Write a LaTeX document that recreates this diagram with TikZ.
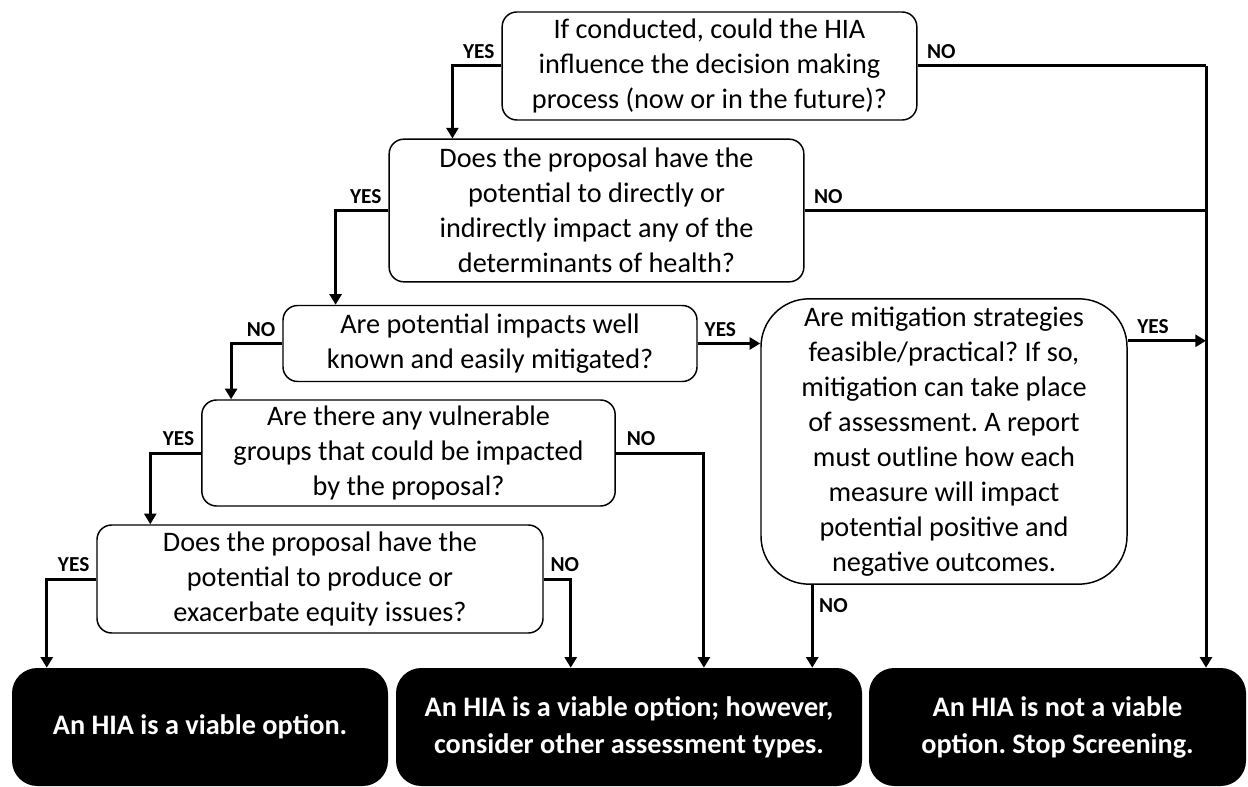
\documentclass[tikz,border=0pt]{standalone}
\usepackage{fontspec}
\setmainfont{Carlito}
\usetikzlibrary{arrows.meta,positioning}
\frenchspacing

\begin{document}
\begin{tikzpicture}[x=0.75pt,y=-0.75pt,
    qbox/.style={draw,line width=1.1pt,rounded corners=11pt,fill=white,
                 font=\fontsize{21.2}{26.25}\selectfont,align=center,inner sep=0pt},
    endbox/.style={fill=black,rounded corners=19pt,text=white,
                 font=\fontsize{21.2}{27.75}\selectfont\bfseries,align=center,
                 minimum height=88.5pt,inner sep=0pt},
    conn/.style={line width=2.25pt},
    arr/.style={conn,-{Triangle[length=8pt,width=9pt]}},
    lbl/.style={font=\fontsize{16}{18}\selectfont\bfseries,inner sep=2pt}]
    \useasboundingbox (0,0) rectangle (1248,787);
    % questions
    \node[qbox,minimum width=311pt,minimum height=81pt] (q1) at (709.5,66)
      {If conducted, could the HIA\\influence the decision making\\process (now or in the future)?};
    \node[qbox,minimum width=311pt,minimum height=107pt] (q2) at (596.5,210.5)
      {Does the proposal have the\\potential to directly or\\indirectly impact any of the\\determinants of health?};
    \node[qbox,minimum width=310.5pt,minimum height=57pt] (q3) at (490,343.5)
      {Are potential impacts well\\known and easily mitigated?};
    \node[qbox,minimum width=310pt,minimum height=79.5pt] (q4) at (408.5,453)
      {Are there any vulnerable\\groups that could be impacted\\by the proposal?};
    \node[qbox,minimum width=334.5pt,minimum height=81pt] (q5) at (320,579)
      {Does the proposal have the\\potential to produce or\\exacerbate equity issues?};
    \node[qbox,rounded corners=36pt,minimum width=274.5pt,minimum height=214pt] (mit) at (944,441.5)
      {Are mitigation strategies\\feasible/practical? If so,\\mitigation can take place\\of assessment. A report\\must outline how each\\measure will impact\\potential positive and\\negative outcomes.};
    % outcomes
    \node[endbox,minimum width=282pt] (b1) at (200,727) {An HIA is a viable option.};
    \node[endbox,minimum width=349.5pt] (b2) at (629,727)
      {An HIA is a viable option; however,\\consider other assessment types.};
    \node[endbox,minimum width=282.75pt] (b3) at (1057.5,727)
      {An HIA is not a viable\\option. Stop Screening.};
    % right hand collector
    \coordinate (rt) at (1206,66);
    \draw[conn] (q1.east) -- (rt);
    \draw[arr] (rt) -- (rt |- b3.north);
    \draw[conn] (q2.east) -- (q2.east -| rt);
    \draw[arr] ([yshift=-32pt]mit.north east) coordinate (m1) -- (m1 -| rt);
    % left hand branches
    \draw[arr] (q1.west) -| ([xshift=48pt]q2.north west);
    \draw[arr] (q2.west) -| ([xshift=40pt]q3.north west);
    \draw[arr] (q3.west) -| ([xshift=22.5pt]q4.north west);
    \draw[arr] (q4.west) -| ([xshift=40.5pt]q5.north west);
    \draw[arr] (q5.west) -| ([xshift=26.25pt]b1.north west);
    \draw[arr] (q3.east) -- (q3.east -| mit.west);
    \draw[arr] (q5.east) -- ++(27,0) coordinate (n5) -- (n5 |- b2.north);
    \draw[arr] (q4.east) -- ++(88,0) coordinate (n4) -- (n4 |- b2.north);
    \draw[arr] ([xshift=39pt]mit.south west) coordinate (n6) -- (n6 |- b2.north);
    % labels
    \node[lbl,anchor=south east] (y1) at ([xshift=-3pt,yshift=3pt]q1.west) {YES};
    \node[lbl,anchor=south west] (o1) at ([xshift=5pt,yshift=3pt]q1.east) {NO};
    \node[lbl,anchor=south east] (y2) at ([xshift=-3pt,yshift=3pt]q2.west) {YES};
    \node[lbl,anchor=south west] (o2) at ([xshift=5pt,yshift=3pt]q2.east) {NO};
    \node[lbl,anchor=south east] (o3) at ([xshift=-3pt,yshift=3pt]q3.west) {NO};
    \node[lbl,anchor=south west] (y3) at ([xshift=3pt,yshift=3pt]q3.east) {YES};
    \node[lbl,anchor=south east] (y4) at ([xshift=-3pt,yshift=3pt]q4.west) {YES};
    \node[lbl,anchor=south west] (o4) at ([xshift=6pt,yshift=3pt]q4.east) {NO};
    \node[lbl,anchor=south east] (y5) at ([xshift=-3pt,yshift=3pt]q5.west) {YES};
    \node[lbl,anchor=south west] (o5) at ([xshift=3pt,yshift=3pt]q5.east) {NO};
    \node[lbl,anchor=south west] (y6) at ([xshift=5pt,yshift=3pt]m1) {YES};
    \node[lbl,anchor=north west] (o6) at ([xshift=3pt,yshift=-8pt]n6) {NO};
\end{tikzpicture}
\end{document}
